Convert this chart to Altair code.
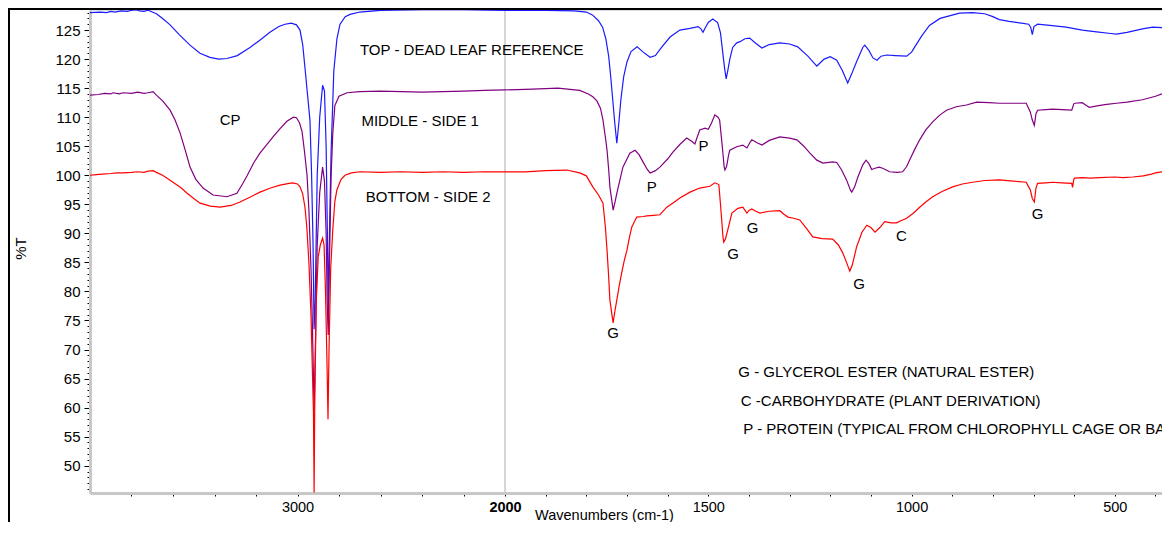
import altair as alt
import pandas as pd

# ---------------- data (wavenumber cm-1, %T) ----------------
top_wn = [4000, 3950, 3920, 3900, 3880, 3850, 3820, 3800, 3780, 3760, 3740, 3720, 3700, 3680, 3650,
          3614, 3570, 3518, 3470, 3422, 3380, 3340, 3290, 3229, 3180, 3133, 3090, 3060, 3030, 3005,
          2988, 2975, 2964, 2952, 2940, 2932, 2925, 2920, 2915, 2905, 2893, 2879, 2870, 2862, 2856,
          2852, 2846, 2838, 2825, 2810, 2795, 2770, 2747, 2700, 2600, 2400, 2200, 2000, 1900, 1830,
          1800, 1785, 1770, 1760, 1752, 1745, 1740, 1735, 1730, 1725, 1720, 1715, 1708, 1700, 1690,
          1675, 1660, 1643, 1630, 1615, 1594, 1570, 1545, 1525, 1518, 1513, 1508, 1500, 1489, 1477,
          1470, 1465, 1460, 1456, 1452, 1447, 1440, 1430, 1422, 1410, 1398, 1385, 1368, 1350, 1324,
          1300, 1280, 1255, 1233, 1215, 1200, 1184, 1170, 1157, 1147, 1135, 1120, 1115, 1105, 1095,
          1085, 1075, 1061, 1040, 1012, 1000, 992, 975, 956, 930, 882, 850, 820, 800, 784,
          760, 730, 712, 707, 703, 699, 690, 660, 620, 580, 545, 510, 496, 470, 432,
          407, 384]
top_t = [128.0, 128.1, 128.0, 128.2, 128.1, 128.3, 128.2, 128.4, 128.5, 128.3, 128.2, 128.4, 128.1, 127.8, 127.0,
         125.9, 124.2, 122.4, 121.0, 120.3, 120.0, 120.1, 120.6, 122.0, 123.3, 124.6, 125.6, 126.0, 126.2, 125.9,
         125.0, 122.5, 118.5, 114.0, 109.5, 100.0, 88.0, 73.5, 78.0, 100.0, 110.0, 115.5, 114.5, 105.0, 90.0,
         76.5, 90.0, 104.0, 118.0, 123.5, 126.0, 127.3, 127.7, 128.1, 128.4, 128.5, 128.5, 128.4, 128.4, 128.3,
         128.1, 127.6, 126.6, 125.5, 123.5, 120.5, 117.0, 113.0, 109.0, 105.5, 109.0, 113.0, 117.0, 119.5, 121.3,
         122.1, 121.2, 120.3, 120.6, 122.0, 123.8, 125.0, 125.3, 125.6, 125.2, 124.6, 125.3, 126.3, 126.9, 126.3,
         124.5, 121.5, 118.5, 116.6, 118.0, 120.0, 122.0, 122.8, 123.0, 123.5, 123.6, 122.8, 121.9, 122.5, 122.8,
         122.6, 122.1, 120.5, 118.8, 120.0, 120.4, 119.8, 118.0, 115.9, 117.5, 119.6, 122.0, 122.4, 121.5, 120.2,
         119.8, 120.5, 120.7, 120.6, 120.5, 121.2, 122.1, 124.0, 125.8, 127.0, 127.9, 128.0, 127.8, 127.3, 126.8,
         126.5, 126.2, 126.0, 125.5, 124.2, 125.6, 126.0, 125.8, 125.5, 125.0, 124.7, 124.4, 124.3, 124.6, 125.2,
         125.5, 125.4]

mid_wn = [4000, 3960, 3930, 3900, 3889, 3860, 3840, 3800, 3770, 3740, 3720, 3696, 3680, 3650, 3614,
          3590, 3566, 3540, 3518, 3490, 3455, 3407, 3340, 3292, 3265, 3243, 3210, 3181, 3150, 3118,
          3085, 3051, 3020, 3005, 2990, 2978, 2966, 2954, 2945, 2935, 2928, 2920, 2913, 2905, 2893,
          2879, 2870, 2862, 2857, 2852, 2846, 2838, 2830, 2820, 2800, 2761, 2700, 2600, 2500, 2400,
          2300, 2200, 2100, 2000, 1950, 1900, 1870, 1840, 1816, 1795, 1784, 1774, 1765, 1759, 1753,
          1749, 1745, 1742, 1737, 1734, 1729, 1725, 1718, 1710, 1700, 1693, 1680, 1670, 1663, 1650,
          1643, 1630, 1619, 1600, 1587, 1570, 1553, 1540, 1533, 1526, 1521, 1508, 1500, 1492, 1484,
          1476, 1472, 1467, 1464, 1461, 1459, 1455, 1450, 1447, 1430, 1415, 1405, 1398, 1393, 1380,
          1368, 1350, 1324, 1300, 1282, 1265, 1250, 1233, 1218, 1194, 1184, 1172, 1160, 1150, 1147,
          1140, 1132, 1120, 1112, 1105, 1098, 1090, 1080, 1071, 1054, 1035, 1022, 1012, 1005, 992,
          980, 965, 948, 930, 914, 890, 865, 840, 810, 784, 750, 718, 712, 708, 703,
          698, 694, 690, 670, 653, 630, 606, 601, 598, 580, 570, 563, 540, 520, 496,
          470, 432, 400, 384]
mid_t = [113.8, 113.9, 114.1, 114.0, 114.2, 114.0, 114.2, 114.1, 114.3, 114.1, 114.2, 114.4, 113.8, 112.8, 111.2,
         109.5, 107.3, 104.2, 101.4, 99.3, 97.8, 96.6, 96.3, 96.9, 98.5, 99.9, 102.2, 103.8, 105.2, 106.6,
         108.0, 109.3, 110.0, 109.9, 109.0, 107.5, 104.0, 100.0, 94.0, 84.0, 74.0, 59.5, 72.0, 88.0, 97.0,
         101.4, 99.0, 90.0, 78.0, 72.5, 85.0, 100.0, 107.2, 112.0, 113.6, 114.2, 114.4, 114.5, 114.4, 114.3,
         114.4, 114.5, 114.6, 114.7, 114.8, 114.9, 115.0, 114.8, 114.6, 114.0, 113.5, 112.8, 111.5, 109.5, 106.5,
         104.3, 101.0, 98.0, 95.5, 94.0, 95.5, 96.9, 99.0, 101.4, 102.8, 103.8, 104.3, 103.5, 102.6, 101.0,
         100.4, 100.8, 101.4, 102.8, 104.0, 105.3, 106.4, 105.8, 105.4, 106.8, 107.8, 108.1, 107.9, 109.0, 110.4,
         110.0, 109.5, 106.0, 103.8, 101.5, 100.9, 101.5, 103.5, 104.3, 104.9, 105.2, 104.7, 105.6, 106.1, 105.6,
         105.2, 106.0, 106.6, 106.4, 106.1, 105.0, 103.8, 102.6, 102.1, 102.3, 102.2, 100.9, 99.2, 97.4, 97.1,
         98.0, 99.7, 101.8, 102.6, 102.0, 101.0, 101.2, 101.4, 101.2, 100.6, 100.5, 100.6, 101.5, 102.6, 104.5,
         106.1, 107.8, 109.2, 110.4, 111.2, 111.8, 112.1, 112.6, 112.5, 112.4, 112.4, 112.4, 111.5, 110.9, 109.5,
         108.6, 110.6, 111.2, 111.3, 111.4, 111.3, 111.2, 112.3, 112.4, 112.5, 112.0, 111.7, 112.0, 112.2, 112.4,
         112.6, 113.0, 113.6, 114.0]

bot_wn = [4000, 3970, 3940, 3900, 3870, 3841, 3800, 3770, 3740, 3720, 3696, 3680, 3650, 3600, 3560,
          3532, 3500, 3470, 3420, 3373, 3320, 3277, 3230, 3181, 3130, 3084, 3040, 3022, 3000, 2988,
          2975, 2964, 2955, 2945, 2935, 2928, 2923, 2920, 2917, 2910, 2900, 2890, 2879, 2872, 2865,
          2858, 2853, 2848, 2840, 2830, 2820, 2810, 2790, 2771, 2740, 2699, 2600, 2500, 2400, 2300,
          2200, 2100, 2000, 1950, 1900, 1848, 1816, 1800, 1784, 1770, 1759, 1753, 1749, 1745, 1742,
          1737, 1734, 1730, 1725, 1719, 1713, 1706, 1700, 1694, 1688, 1676, 1660, 1651, 1635, 1619,
          1602, 1585, 1570, 1545, 1521, 1496, 1484, 1474, 1470, 1467, 1464, 1462, 1458, 1452, 1442,
          1427, 1415, 1410, 1405, 1399, 1393, 1383, 1373, 1350, 1324, 1314, 1304, 1290, 1275, 1258,
          1243, 1220, 1194, 1180, 1169, 1160, 1152, 1146, 1135, 1122, 1110, 1100, 1090, 1078, 1066,
          1050, 1037, 1025, 1012, 995, 980, 965, 948, 925, 899, 875, 850, 820, 784, 750,
          718, 712, 708, 703, 698, 694, 690, 670, 653, 630, 606, 604, 601, 599, 580,
          560, 538, 500, 480, 456, 430, 410, 400, 384]
bot_t = [100.0, 100.1, 100.2, 100.3, 100.4, 100.4, 100.5, 100.6, 100.5, 100.7, 100.8, 100.5, 100.0, 98.8, 97.8,
         96.9, 96.0, 95.2, 94.7, 94.5, 94.8, 95.4, 96.2, 97.1, 97.8, 98.3, 98.6, 98.7, 98.5, 98.0,
         96.8, 94.5, 91.0, 85.0, 76.0, 66.0, 59.0, 45.4, 60.0, 78.0, 86.0, 88.0, 89.2, 88.0, 80.0,
         68.0, 58.0, 70.0, 84.0, 90.6, 95.5, 97.5, 99.3, 100.0, 100.4, 100.6, 100.5, 100.6, 100.5, 100.6,
         100.5, 100.6, 100.6, 100.6, 100.8, 100.9, 100.4, 99.9, 98.0, 96.6, 95.2, 91.0, 87.1, 82.5, 78.5,
         76.0, 74.6, 76.5, 78.5, 81.0, 83.2, 85.5, 87.1, 89.3, 91.1, 92.8, 92.9, 93.0, 93.1, 93.2,
         94.5, 95.3, 96.1, 97.1, 97.8, 98.1, 98.7, 98.4, 95.0, 92.3, 89.5, 88.5, 89.0, 90.6, 93.5,
         94.3, 94.5, 94.0, 93.5, 94.0, 94.2, 93.8, 93.5, 93.8, 93.9, 93.3, 92.8, 92.6, 92.3, 90.8,
         89.4, 89.1, 89.0, 88.0, 86.6, 85.0, 83.5, 84.5, 87.7, 90.2, 91.4, 91.0, 90.2, 91.0, 92.0,
         91.8, 91.8, 92.2, 92.6, 93.5, 94.5, 95.4, 96.3, 97.2, 98.0, 98.5, 98.8, 99.1, 99.2, 99.0,
         98.8, 98.0, 97.5, 96.0, 95.4, 97.8, 98.6, 98.7, 98.8, 98.7, 98.6, 97.9, 99.3, 99.5, 99.6,
         99.5, 99.6, 99.7, 99.6, 99.7, 99.9, 100.2, 100.4, 100.6]

# annotations
left_text = ["TOP - DEAD LEAF REFERENCE", "MIDDLE - SIDE 1", "BOTTOM - SIDE 2",
             "G - GLYCEROL ESTER (NATURAL ESTER)", "C -CARBOHYDRATE (PLANT DERIVATION)",
             "P - PROTEIN (TYPICAL FROM CHLOROPHYLL CAGE OR BACTERIA)"]
left_wn = [2699, 2692, 2671, 1426, 1420, 1414]
left_t = [121.6, 109.3, 96.3, 66.2, 61.2, 56.3]

mark_text = ["CP", "P", "P", "G", "G", "G", "G", "G", "C"]
mark_wn = [3325, 1639, 1512, 1734, 1439, 1391, 1129, 690, 1025]
mark_t = [109.5, 98.0, 105.1, 72.8, 86.4, 90.9, 81.3, 93.3, 89.5]

x_major = [3000, 2000, 1500, 1000, 500]
x_ticks = [3800, 3600, 3400, 3200, 3000, 2800, 2600, 2400, 2200, 2000,
           1900, 1800, 1700, 1600, 1500, 1400, 1300, 1200, 1100, 1000,
           900, 800, 700, 600, 500, 400]
y_ticks = list(range(46, 129))
break_wn = [2000]

FONT = "Liberation Sans"
W, H = 1072, 483

xscale = alt.Scale(domain=[4000, 2000, 384], range=[0, 415, W], zero=False, nice=False)
yscale = alt.Scale(domain=[45.3, 128.45], zero=False, nice=False)

xaxis = alt.Axis(
    values=x_ticks,
    labelExpr="indexof([3000,2000,1500,1000,500], datum.value) >= 0 ? '' + datum.value : ''",
    labelOverlap=False, labelFlush=False, grid=False,
    domainColor="#c8c8c8", domainWidth=3,
    tickColor="#000000", tickSize=3, tickWidth=1,
    labelFont=FONT, labelFontSize=14.5, labelColor="#000000", labelPadding=4,
    labelFontWeight={"condition": {"test": "datum.value === 2000", "value": "bold"}, "value": "normal"},
    title="Wavenumbers (cm-1)", titleFont=FONT, titleFontSize=14.5, titleFontWeight="normal",
    titleColor="#000000", titleX=514, titleY=26, titleBaseline="alphabetic",
)
yaxis = alt.Axis(
    values=y_ticks,
    labelExpr="datum.value % 5 === 0 ? '' + datum.value : ''",
    labelOverlap=False, labelFlush=False, grid=False,
    domainColor="#c8c8c8", domainWidth=3,
    tickColor="#000000", tickWidth=1,
    tickSize={"condition": {"test": "datum.value % 5 === 0", "value": 6}, "value": 3},
    labelFont=FONT, labelFontSize=15, labelColor="#000000", labelPadding=4,
    title="%T", titleFont=FONT, titleFontSize=15, titleFontWeight="normal",
    titleColor="#000000", titleX=-70, titleY=238, titleBaseline="middle", titleAngle=270,
)

X = alt.X("wn:Q", scale=xscale, axis=xaxis)
Y = alt.Y("t:Q", scale=yscale, axis=yaxis)

df_top = pd.DataFrame({"wn": top_wn, "t": top_t})
df_mid = pd.DataFrame({"wn": mid_wn, "t": mid_t})
df_bot = pd.DataFrame({"wn": bot_wn, "t": bot_t})
df_left = pd.DataFrame({"wn": left_wn, "t": left_t, "label": left_text})
df_mark = pd.DataFrame({"wn": mark_wn, "t": mark_t, "label": mark_text})
df_break = pd.DataFrame({"wn": break_wn})

brk = alt.Chart(df_break).mark_rule(color="#c8c8c8", strokeWidth=1.5).encode(x=X)

line_top = alt.Chart(df_top).mark_line(color="#1a1aff", strokeWidth=1.2, clip=True).encode(x=X, y=Y)
line_mid = alt.Chart(df_mid).mark_line(color="#800080", strokeWidth=1.2, clip=True).encode(x=X, y=Y)
line_bot = alt.Chart(df_bot).mark_line(color="#ff0000", strokeWidth=1.2, clip=True).encode(x=X, y=Y)

txt_left = alt.Chart(df_left).mark_text(align="left", baseline="middle", font=FONT, fontSize=15,
                                        color="#000000").encode(x=X, y=Y, text="label:N")
txt_mark = alt.Chart(df_mark).mark_text(align="center", baseline="middle", font=FONT, fontSize=15,
                                        color="#000000").encode(x=X, y=Y, text="label:N")

frame_left = alt.Chart(df_break).mark_rule(color="#000000", strokeWidth=2).encode(
    x=alt.value(-81), y=alt.value(-2), y2=alt.value(H + 40))
frame_top = alt.Chart(df_break).mark_rect(color="#000000").encode(
    x=alt.value(-82), x2=alt.value(W + 10), y=alt.value(-2), y2=alt.value(0))

chart = alt.layer(brk, line_top, line_mid, line_bot, txt_left, txt_mark,
                  frame_left, frame_top).properties(
    width=W, height=H,
    autosize=alt.AutoSizeParams(type="none"),
    padding={"left": 82, "top": 2, "right": 0, "bottom": 29},
).configure_view(stroke=None).configure(background="#ffffff")

chart.save("out.html", embed_options={"renderer": "svg", "actions": False})
